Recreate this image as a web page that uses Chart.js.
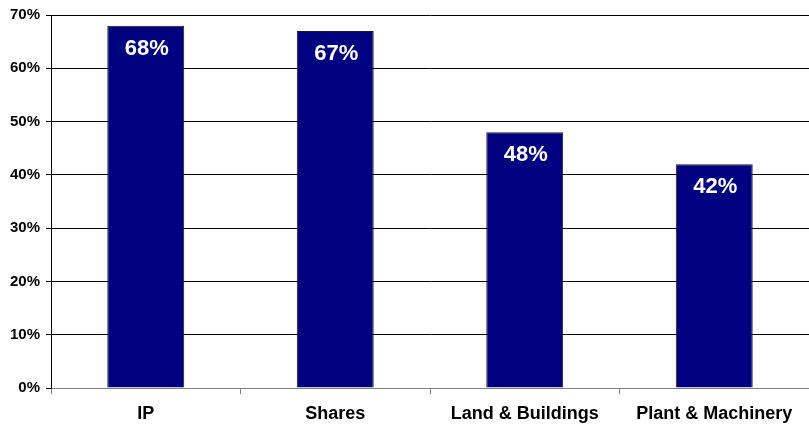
<!DOCTYPE html>
<html>
<head>
<meta charset="utf-8">
<script src="https://cdn.jsdelivr.net/npm/chart.js@4/dist/chart.umd.min.js"></script>
<style>
    html, body { margin: 0; padding: 0; background: #fff; }
    #wrap { width: 809px; height: 426px; }
</style>
</head>
<body>
<div id="wrap"><canvas id="assetChart" width="809" height="426"></canvas></div>
<script>
// asset categories and their shares (%)
const categories = ['IP', 'Shares', 'Land & Buildings', 'Plant & Machinery'];
const shareValues = [68, 67, 48, 42];
const yTicks = [0, 10, 20, 30, 40, 50, 60, 70];

const FONT = '"Liberation Sans", Arial, Helvetica, sans-serif';

// white value labels near the top of each bar
const barLabels = {
    id: 'barLabels',
    afterDatasetsDraw(chart) {
        const ctx = chart.ctx;
        const meta = chart.getDatasetMeta(0);
        ctx.save();
        ctx.fillStyle = '#fff';
        ctx.font = 'bold 22px ' + FONT;
        ctx.textAlign = 'center';
        ctx.textBaseline = 'middle';
        meta.data.forEach((bar, i) => {
            ctx.fillText(shareValues[i] + '%', bar.x + 1, bar.y + 23);
        });
        ctx.restore();
    }
};

const ctx = document.getElementById('assetChart').getContext('2d');
new Chart(ctx, {
    type: 'bar',
    data: {
        labels: categories,
        datasets: [{
            data: shareValues,
            backgroundColor: '#000080',
            borderColor: '#1a1a1a',
            borderWidth: 1,
            borderSkipped: 'bottom',
            categoryPercentage: 1,
            barPercentage: 0.406
        }]
    },
    options: {
        responsive: false,
        animation: false,
        layout: { padding: { top: 15, right: 0, left: 0, bottom: 0 } },
        plugins: {
            legend: { display: false },
            tooltip: { enabled: false }
        },
        scales: {
            x: {
                grid: {
                    offset: true,
                    drawOnChartArea: false,
                    drawTicks: true,
                    tickLength: 6,
                    color: '#808080'
                },
                border: { color: '#808080', width: 1 },
                ticks: {
                    color: '#000',
                    font: { family: FONT, size: 18, weight: 'bold' },
                    padding: 9,
                    maxRotation: 0
                },
                afterFit(scale) { scale.height = 38; }
            },
            y: {
                min: 0,
                max: 70,
                afterBuildTicks(scale) {
                    scale.ticks = yTicks.map(v => ({ value: v }));
                },
                grid: {
                    color: '#000',
                    lineWidth: 1,
                    tickLength: 5
                },
                border: { color: '#000', width: 1 },
                ticks: {
                    color: '#000',
                    font: { family: FONT, size: 15, weight: 'bold' },
                    padding: 6,
                    callback: v => v + '%'
                },
                afterFit(scale) { scale.width = 51; }
            }
        }
    },
    plugins: [barLabels]
});
</script>
</body>
</html>
